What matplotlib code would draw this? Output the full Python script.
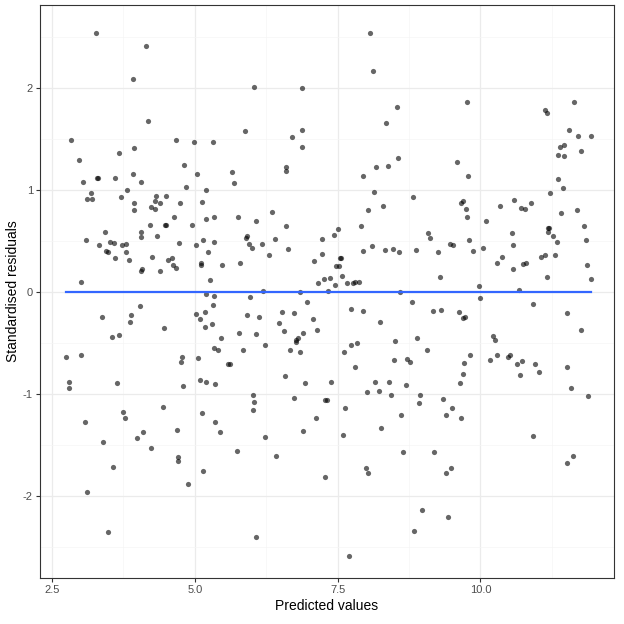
import numpy as np
import matplotlib
matplotlib.use("Agg")
import matplotlib.pyplot as plt

plt.rcParams["font.family"] = "Liberation Sans"
plt.rcParams["axes.unicode_minus"] = False

# predicted values and standardised residuals
predicted = [
    2.75, 2.80, 2.80, 2.83, 2.97, 3.01, 3.01, 3.04, 3.08, 3.10, 3.11, 3.11, 3.18, 3.20, 3.27, 3.29, 3.31, 3.32,
    3.38, 3.39, 3.43, 3.45, 3.48, 3.48, 3.52, 3.55, 3.57, 3.59, 3.60, 3.60, 3.64, 3.67, 3.67, 3.71, 3.73, 3.74,
    3.78, 3.80, 3.80, 3.81, 3.85, 3.87, 3.88, 3.92, 3.92, 3.94, 3.94, 3.94, 3.99, 4.04, 4.06, 4.06, 4.06, 4.06,
    4.08, 4.09, 4.15, 4.18, 4.22, 4.23, 4.23, 4.25, 4.30, 4.30, 4.32, 4.34, 4.39, 4.39, 4.44, 4.46, 4.48, 4.50,
    4.50, 4.53, 4.60, 4.62, 4.64, 4.67, 4.67, 4.69, 4.71, 4.71, 4.72, 4.74, 4.76, 4.78, 4.79, 4.81, 4.85, 4.88,
    4.95, 4.99, 5.02, 5.02, 5.04, 5.06, 5.09, 5.09, 5.11, 5.11, 5.13, 5.13, 5.14, 5.14, 5.18, 5.18, 5.20, 5.20,
    5.20, 5.20, 5.23, 5.27, 5.30, 5.32, 5.32, 5.34, 5.34, 5.34, 5.34, 5.35, 5.35, 5.41, 5.44, 5.46, 5.48, 5.58,
    5.62, 5.65, 5.69, 5.74, 5.76, 5.77, 5.79, 5.84, 5.88, 5.90, 5.91, 5.91, 5.95, 5.97, 6.00, 6.02, 6.02, 6.04,
    6.04, 6.07, 6.07, 6.07, 6.12, 6.18, 6.19, 6.23, 6.23, 6.30, 6.35, 6.40, 6.42, 6.47, 6.53, 6.56, 6.58, 6.60,
    6.60, 6.60, 6.63, 6.67, 6.70, 6.74, 6.74, 6.77, 6.77, 6.81, 6.84, 6.84, 6.88, 6.88, 6.88, 6.90, 6.90, 6.93,
    6.97, 7.07, 7.09, 7.12, 7.14, 7.16, 7.23, 7.23, 7.26, 7.28, 7.28, 7.32, 7.33, 7.37, 7.39, 7.44, 7.46, 7.47,
    7.51, 7.53, 7.54, 7.56, 7.58, 7.60, 7.61, 7.63, 7.67, 7.70, 7.74, 7.74, 7.77, 7.81, 7.81, 7.84, 7.88, 7.91,
    7.95, 7.95, 7.95, 8.00, 8.02, 8.03, 8.03, 8.07, 8.12, 8.10, 8.14, 8.16, 8.17, 8.23, 8.24, 8.26, 8.30, 8.33,
    8.35, 8.38, 8.40, 8.44, 8.47, 8.49, 8.51, 8.54, 8.56, 8.58, 8.60, 8.61, 8.65, 8.70, 8.72, 8.77, 8.80, 8.82,
    8.84, 8.87, 8.89, 8.93, 8.94, 8.98, 9.07, 9.08, 9.12, 9.17, 9.19, 9.26, 9.29, 9.31, 9.35, 9.40, 9.40, 9.43,
    9.47, 9.49, 9.50, 9.52, 9.59, 9.63, 9.64, 9.66, 9.66, 9.70, 9.70, 9.70, 9.71, 9.73, 9.75, 9.77, 9.77, 9.78,
    9.80, 9.82, 9.87, 9.98, 10.00, 10.05, 10.10, 10.17, 10.22, 10.26, 10.29, 10.29, 10.35, 10.38, 10.49, 10.52,
    10.56, 10.57, 10.57, 10.59, 10.64, 10.68, 10.69, 10.71, 10.73, 10.75, 10.78, 10.80, 10.89, 10.92, 10.92,
    10.96, 11.03, 11.06, 11.13, 11.13, 11.17, 11.17, 11.19, 11.19, 11.20, 11.22, 11.27, 11.31, 11.34, 11.36,
    11.36, 11.39, 11.41, 11.45, 11.47, 11.47, 11.52, 11.52, 11.52, 11.55, 11.59, 11.62, 11.64, 11.69, 11.71,
    11.76, 11.76, 11.82, 11.85, 11.87, 11.89, 11.94, 11.94,
]
residuals = [
    -0.64, -0.88, -0.94, 1.49, 1.29, 0.10, -0.62, 1.08, -1.27, 0.51, 0.91, -1.96, 0.97, 0.91, 2.54, 1.12, 1.12, 0.46,
    -0.25, -1.47, 0.59, 0.40, 0.39, -2.35, 0.49, -0.44, -1.71, 0.48, 0.33, 1.12, -0.89, 1.36, -0.42, 0.93, 0.46, -1.18,
    -1.23, 0.47, 0.39, 1.00, 0.31, -0.29, -0.23, 2.09, 1.15, 1.41, 0.87, 0.80, -1.43, -0.14, 0.54, 0.59, 0.20, 1.08,
    0.22, -1.37, 2.41, 1.67, 0.66, 0.83, -1.53, 0.34, 0.89, 0.81, 0.94, 0.55, 0.87, 0.20, -1.13, -0.35, 0.66, 0.94,
    0.66, 0.31, 0.33, 0.26, 0.73, 0.23, 1.49, -1.35, -1.62, -1.66, 0.48, 0.87, -0.69, -0.64, -0.92, 1.24, 1.03, -1.88,
    0.66, 1.47, 0.46, -0.22, 1.15, -0.65, -0.27, -0.86, 0.26, 0.28, 0.88, -1.19, 0.51, -1.75, -0.20, -0.34, 1.00, 0.71,
    -0.02, -0.88, 0.39, 0.12, -0.31, -0.13, 1.47, -0.04, -0.55, 0.73, 0.49, -0.90, -1.27, -0.57, -1.37, -0.45, 0.26, -0.71,
    -0.71, 1.17, 1.07, -1.56, 0.73, -0.40, 0.28, -0.57, 1.58, 0.53, 0.55, -0.23, 0.47, -0.05, 0.43, -1.16, -1.01, 2.01,
    -1.08, -2.40, -0.41, 0.69, -0.25, 0.47, 0.01, -1.42, -0.52, 0.36, 0.78, 0.52, -1.61, -0.30, -0.20, -0.38, -0.82, 1.22,
    1.18, 0.65, 0.42, -0.57, 1.52, -1.04, -0.21, -0.47, -0.49, -0.45, 0.00, -0.59, 2.00, 1.59, 1.42, -1.36, -0.40, -0.89,
    -0.10, -0.27, 0.30, -1.23, -0.37, 0.09, 0.52, 0.37, 0.13, -1.06, -1.81, -1.06, 0.01, 0.14, -0.88, 0.56, 0.07, 0.25,
    0.62, 0.25, 0.33, 0.33, 0.16, -1.40, -0.59, -1.14, 0.09, -2.59, -0.17, -0.52, 0.09, 0.10, -0.74, -0.50, 0.10, 0.65,
    1.14, -0.19, 0.40, -1.72, -0.98, 0.80, -1.77, 2.54, 2.16, 0.45, 0.98, -0.88, 1.22, -0.97, -0.29, -1.33, 0.84, 0.41,
    1.65, 1.23, -0.88, -1.01, 0.42, -0.67, -0.48, 1.81, 1.31, 0.39, 0.00, -1.21, -1.57, -0.91, -0.66, -0.69, -0.10, 0.93,
    -2.34, 0.41, -0.45, -1.09, -1.01, -2.14, -0.57, 0.58, 0.53, -0.19, -1.57, 0.39, 0.15, -0.18, -1.05, -1.21, -1.77, -2.20,
    0.47, -1.72, -1.14, 0.46, 1.27, -0.20, -0.89, 0.87, -1.23, -0.80, 0.89, -0.26, -0.70, -0.25, 0.81, 1.86, 0.73, 1.14,
    0.51, -0.62, 0.40, 0.06, -0.06, 0.43, 0.69, -0.67, -0.43, -0.47, -0.62, 0.28, 0.84, 0.34, -0.64, -0.62,
    0.58, 0.46, 0.22, 0.90, -0.71, 0.02, -0.81, 0.82, -0.68, 0.27, 0.81, 0.28, 0.87, -0.12, -1.41,
    -0.71, -0.78, 0.34, 0.36, 1.78, 1.75, 0.15, 0.59, 0.63, 0.63, 0.97, 0.55, 0.36, 0.49, 1.34,
    1.11, 1.42, 0.77, 1.02, 1.44, 1.33, -0.74, -0.21, -1.68, 1.59, -0.94, -1.61, 1.86, 0.80, 1.53,
    -0.37, 1.38, 0.65, 0.51, 0.26, -1.02, 1.53, 0.13,
]
# linear fit of residuals on predicted values (flat at zero in the reference)
fit_level = 0.0

x = np.array(predicted)
y = np.array(residuals)

fig = plt.figure(figsize=(6.24, 6.24), dpi=100)
ax = fig.add_axes([0.064, 0.074, 0.92, 0.918])

ax.scatter(x, y, s=14, color="black", alpha=0.6, linewidths=0, zorder=3)

xs = np.array([x.min(), x.max()])
ax.plot(xs, [fit_level, fit_level], color="#3366FF", lw=1.6, zorder=4)

ax.set_xlim(2.29, 12.34)
ax.set_ylim(-2.80, 2.81)
ax.set_xticks([2.5, 5.0, 7.5, 10.0])
ax.set_yticks([-2, -1, 0, 1, 2])
ax.set_xticks([3.75, 6.25, 8.75, 11.25], minor=True)
ax.set_yticks([-2.5, -1.5, -0.5, 0.5, 1.5, 2.5], minor=True)
ax.grid(True, which="major", color="#EBEBEB", lw=0.9)
ax.grid(True, which="minor", color="#F5F5F5", lw=0.5)
ax.set_axisbelow(True)
ax.tick_params(which="major", colors="#4D4D4D", labelsize=8, length=3, color="#333333", pad=2)
ax.tick_params(which="minor", length=0)
for s in ax.spines.values():
    s.set_color("#333333")
    s.set_linewidth(0.8)

ax.set_xlabel("Predicted values", fontsize=10, labelpad=3)
ax.set_ylabel("Standardised residuals", fontsize=10, labelpad=2)

fig.savefig("out.png", dpi=100)
